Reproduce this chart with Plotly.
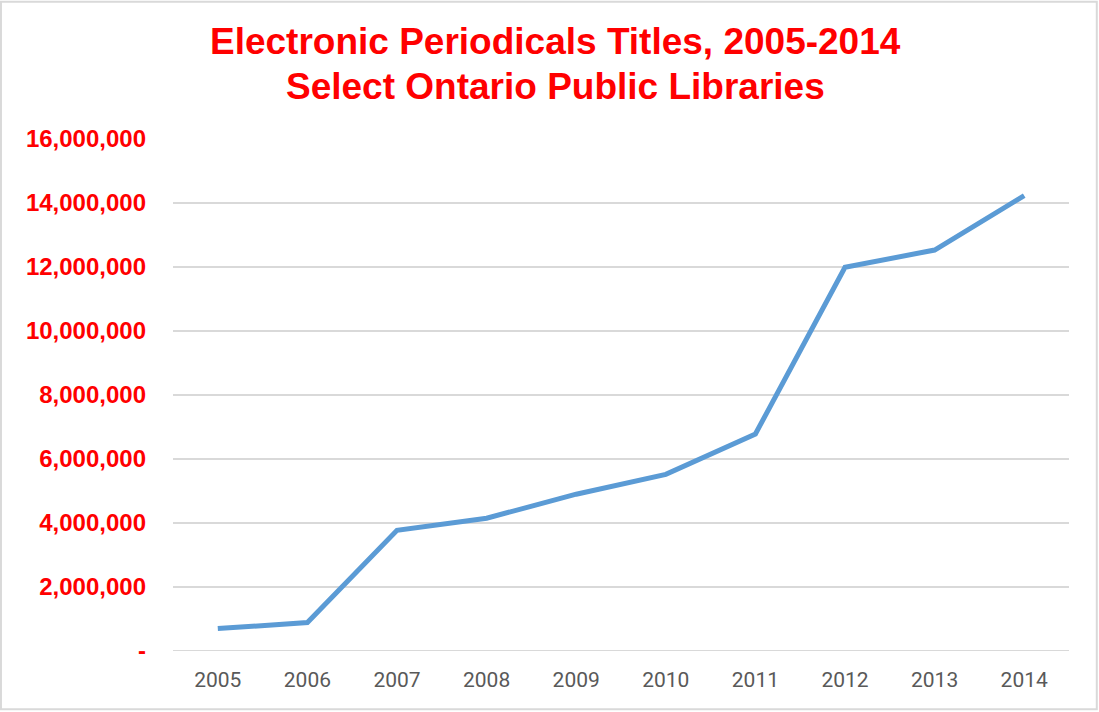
import plotly.graph_objects as go

years = ["2005", "2006", "2007", "2008", "2009", "2010", "2011", "2012", "2013", "2014"]
titles = [700000, 890000, 3770000, 4150000, 4900000, 5520000, 6780000, 11990000, 12530000, 14230000]

y_ticks = [0, 2000000, 4000000, 6000000, 8000000, 10000000, 12000000, 14000000, 16000000]
y_tick_text = ["-", "2,000,000", "4,000,000", "6,000,000", "8,000,000",
               "10,000,000", "12,000,000", "14,000,000", "16,000,000"]

title_lines = ["Electronic Periodicals Titles, 2005-2014", "Select Ontario Public Libraries"]

title_font = dict(family="Liberation Sans, Arial", size=37, color="#ff0000", weight="bold")

fig = go.Figure()
fig.add_trace(go.Scatter(
    x=years, y=titles, mode="lines",
    line=dict(color="#5b9bd5", width=5),
    showlegend=False,
))

fig.update_layout(
    width=1099, height=712,
    margin=dict(l=173, r=30, t=139, b=61),
    paper_bgcolor="white", plot_bgcolor="white",
    # light outer border of the chart area
    shapes=[dict(
        type="rect", xref="paper", yref="paper",
        x0=-0.192, x1=1.031, y0=-0.114, y1=1.268,
        line=dict(color="#d9d9d9", width=2),
    )],
)

# two title lines as annotations (plotly's multi-line title gets clipped)
for text, ypos in zip(title_lines, [1.1895, 1.102]):
    fig.add_annotation(
        text=text, xref="paper", yref="paper", x=0.4273, y=ypos,
        xanchor="center", yanchor="middle", showarrow=False, font=title_font,
    )

fig.update_xaxes(
    type="category", range=[-0.5, 9.5],
    showgrid=False, showline=False, ticks="",
    tickfont=dict(family="Roboto", size=21, color="#595959"),
    ticklabelstandoff=14,
)
fig.update_yaxes(
    range=[0, 16000000],
    tickvals=y_ticks, ticktext=y_tick_text,
    showgrid=True, gridcolor="#d9d9d9", gridwidth=2,
    zeroline=False, showline=False, ticks="",
    tickfont=dict(family="Liberation Sans, Arial", size=24, color="#ff0000", weight="bold"),
    ticklabelstandoff=26,
)

# baseline at zero drawn as a regular gridline
fig.add_hline(y=0, line=dict(color="#d9d9d9", width=2), layer="below")

fig.write_html(
    "out.html",
    config={"displayModeBar": False},
    post_script="document.body.style.margin='0';",
)
